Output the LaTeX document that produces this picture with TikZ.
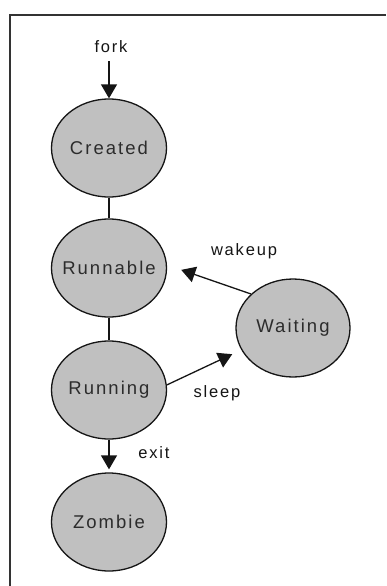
\documentclass[tikz,border=0pt]{standalone}
\usepackage{fontspec}
\usepackage{tikz}
\usetikzlibrary{arrows.meta,shapes.geometric}
\newfontfamily\statefont{Liberation Sans}[LetterSpace=11]
\definecolor{StateGray}{HTML}{C0C0C0}
\definecolor{Ink}{HTML}{151515}
\definecolor{FrameInk}{HTML}{333333}

\begin{document}
\begin{tikzpicture}[x=1pt,y=-1pt,>={Triangle[width=16pt,length=14pt]},
    state/.style={ellipse,draw=Ink,line width=1.3pt,fill=StateGray,minimum width=115pt,
      minimum height=98pt,inner xsep=-12pt,inner ysep=0pt,
      font=\statefont\fontsize{18.5}{21}\selectfont,text=Ink!90},
    lbl/.style={font=\statefont\fontsize{16.5}{19}\selectfont,text=Ink,inner sep=1pt},
    flow/.style={->,Ink,line width=1.3pt}]
    \useasboundingbox (0,0) rectangle (386,586);
    \fill[white] (0,0) rectangle (386,586);
    \draw[FrameInk,line width=2pt] (10,586) -- (10,15) -- (386,15);

    \node[state] (created) at (109,148) {Created};
    \node[state] (runnable) at (109,268) {Runnable};
    \node[state] (running) at (109,390) {Running};
    \node[state] (zombie) at (109,522) {Zombie};
    \node[state,minimum width=114pt] (waiting) at (293,328) {Waiting};

    \node[lbl] (forklbl) at (111,47) {fork};
    \node[lbl] (wakeuplbl) at (244,251) {wakeup};
    \node[lbl] (sleeplbl) at (217,393) {sleep};
    \node[lbl] (exitlbl) at (154,453) {exit};

    \draw[flow,shorten <=7pt] (forklbl.south -| created) -- (created);
    \draw[Ink,line width=1.3pt] (created) -- (runnable);
    \draw[Ink,line width=1.3pt] (runnable) -- (running);
    \draw[flow,shorten >=3pt] (running) -- (zombie);
    \draw[flow,shorten >=15pt] (waiting.141) -- (runnable.3);
    \draw[flow,shorten >=10pt] (running.5) -- (waiting.203);
  \end{tikzpicture}
\end{document}
